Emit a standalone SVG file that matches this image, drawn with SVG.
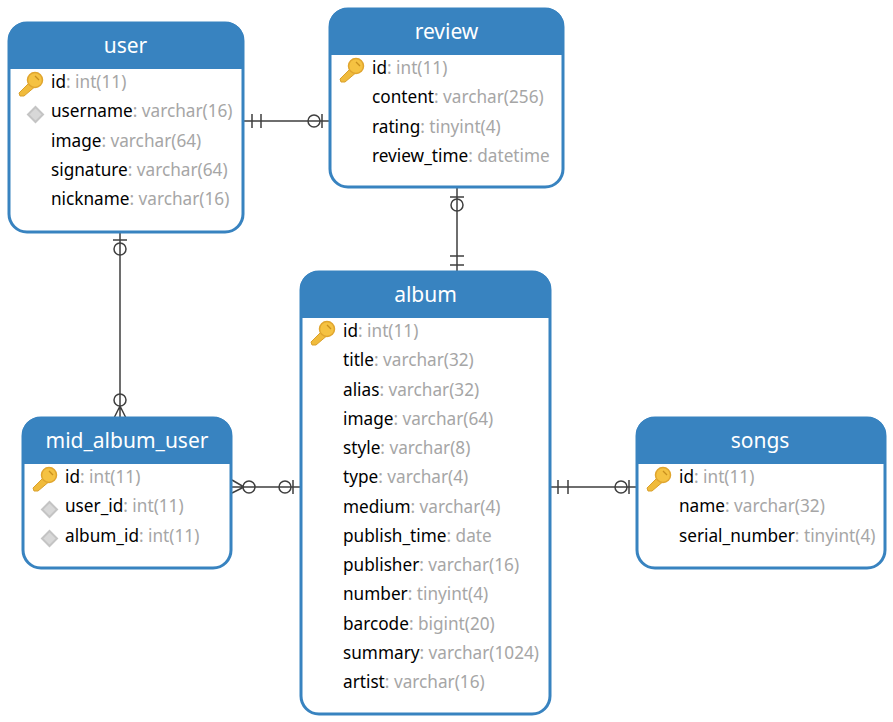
<svg xmlns="http://www.w3.org/2000/svg" width="893" height="722" viewBox="0 0 893 722">
<style>
.box{fill:#fff;stroke:#3883c0;stroke-width:3}
.head{fill:#3883c0}
.title{font-family:"Noto Sans","Open Sans",sans-serif;font-size:21px;fill:#fff;text-anchor:middle}
.row{font-family:"Noto Sans","Open Sans",sans-serif;font-size:17.2px;fill:#000}
.row tspan{fill:#a6a6a6}
.c{fill:none;stroke:#3f3f3f;stroke-width:1.5}
</style>
<defs>
<g id="key">
<path d="M0 21L13 8L18 13L5 24L1 24Z" fill="#f0bb3c" stroke="#d9a02c" stroke-width="1"/>
<circle cx="16" cy="8" r="7.5" fill="#f5c242" stroke="#e0a52e" stroke-width="1.5"/>
<path d="M16 4L20 8" stroke="#c98f1e" stroke-width="1.2"/>
</g>
<path id="dia" d="M8.5 0L16 7.5L8.5 15L1 7.5Z" fill="#d8d8d8" stroke="#c4c4c4" stroke-width="2"/>
</defs>
<g id="connectors">
<path class="c" d="M244 121H329M252 114V128M261 114V128M322 114V128"/>
<circle class="c" cx="314" cy="121" r="6"/>
<path class="c" d="M457 188V272M450 197H464M450 256H464M450 265H464"/>
<circle class="c" cx="457" cy="205" r="6"/>
<path class="c" d="M120 233V418M113 240H127M120 406L114 418M120 406L126 418"/>
<circle class="c" cx="120" cy="249" r="6"/>
<circle class="c" cx="120" cy="400" r="6"/>
<path class="c" d="M232 487H300M244 487L232 480M244 487L232 493M293 480V494"/>
<circle class="c" cx="249" cy="487" r="6"/>
<circle class="c" cx="285" cy="487" r="6"/>
<path class="c" d="M551 487H636M558 480V494M568 480V494M629 480V494"/>
<circle class="c" cx="621" cy="487" r="6"/>
</g>
<g id="user">
<rect class="box" x="9" y="23" width="234" height="209" rx="18"/>
<path class="head" d="M8 69V41A18 18 0 0 1 26 22H226A18 18 0 0 1 244 41V69Z"/>
<text class="title" x="125.500" y="53">user</text>
<use href="#key" x="19" y="72"/>
<use href="#dia" x="27" y="107"/>
<text class="row" x="51" y="87.500">id<tspan>: int(11)</tspan></text>
<text class="row" x="51" y="116.500">username<tspan>: varchar(16)</tspan></text>
<text class="row" x="51" y="146.500">image<tspan>: varchar(64)</tspan></text>
<text class="row" x="51" y="175.500">signature<tspan>: varchar(64)</tspan></text>
<text class="row" x="51" y="204.500">nickname<tspan>: varchar(16)</tspan></text>
</g>
<g id="review">
<rect class="box" x="330" y="9" width="233" height="178" rx="18"/>
<path class="head" d="M329 55V27A18 18 0 0 1 347 8H546A18 18 0 0 1 564 27V55Z"/>
<text class="title" x="446.500" y="39">review</text>
<use href="#key" x="340" y="58"/>
<text class="row" x="372" y="73.500">id<tspan>: int(11)</tspan></text>
<text class="row" x="372" y="102.500">content<tspan>: varchar(256)</tspan></text>
<text class="row" x="372" y="132.500">rating<tspan>: tinyint(4)</tspan></text>
<text class="row" x="372" y="161.500">review_time<tspan>: datetime</tspan></text>
</g>
<g id="album">
<rect class="box" x="301" y="272" width="249" height="442" rx="18"/>
<path class="head" d="M300 318V290A18 18 0 0 1 318 271H533A18 18 0 0 1 551 290V318Z"/>
<text class="title" x="425.500" y="302">album</text>
<use href="#key" x="311" y="321"/>
<text class="row" x="343" y="336.500">id<tspan>: int(11)</tspan></text>
<text class="row" x="343" y="365.500">title<tspan>: varchar(32)</tspan></text>
<text class="row" x="343" y="395.500">alias<tspan>: varchar(32)</tspan></text>
<text class="row" x="343" y="424.500">image<tspan>: varchar(64)</tspan></text>
<text class="row" x="343" y="453.500">style<tspan>: varchar(8)</tspan></text>
<text class="row" x="343" y="482.500">type<tspan>: varchar(4)</tspan></text>
<text class="row" x="343" y="512.500">medium<tspan>: varchar(4)</tspan></text>
<text class="row" x="343" y="541.500">publish_time<tspan>: date</tspan></text>
<text class="row" x="343" y="570.500">publisher<tspan>: varchar(16)</tspan></text>
<text class="row" x="343" y="599.500">number<tspan>: tinyint(4)</tspan></text>
<text class="row" x="343" y="629.500">barcode<tspan>: bigint(20)</tspan></text>
<text class="row" x="343" y="658.500">summary<tspan>: varchar(1024)</tspan></text>
<text class="row" x="343" y="687.500">artist<tspan>: varchar(16)</tspan></text>
</g>
<g id="mid_album_user">
<rect class="box" x="23" y="418" width="208" height="150" rx="18"/>
<path class="head" d="M22 464V436A18 18 0 0 1 40 417H214A18 18 0 0 1 232 436V464Z"/>
<text class="title" x="127" y="448">mid_album_user</text>
<use href="#key" x="33" y="467"/>
<use href="#dia" x="41" y="502"/>
<use href="#dia" x="41" y="531"/>
<text class="row" x="65" y="482.500">id<tspan>: int(11)</tspan></text>
<text class="row" x="65" y="511.500">user_id<tspan>: int(11)</tspan></text>
<text class="row" x="65" y="541.500">album_id<tspan>: int(11)</tspan></text>
</g>
<g id="songs">
<rect class="box" x="637" y="418" width="248" height="150" rx="18"/>
<path class="head" d="M636 464V436A18 18 0 0 1 654 417H868A18 18 0 0 1 886 436V464Z"/>
<text class="title" x="760" y="448">songs</text>
<use href="#key" x="647" y="467"/>
<text class="row" x="679" y="482.500">id<tspan>: int(11)</tspan></text>
<text class="row" x="679" y="511.500">name<tspan>: varchar(32)</tspan></text>
<text class="row" x="679" y="541.500">serial_number<tspan>: tinyint(4)</tspan></text>
</g>
</svg>
